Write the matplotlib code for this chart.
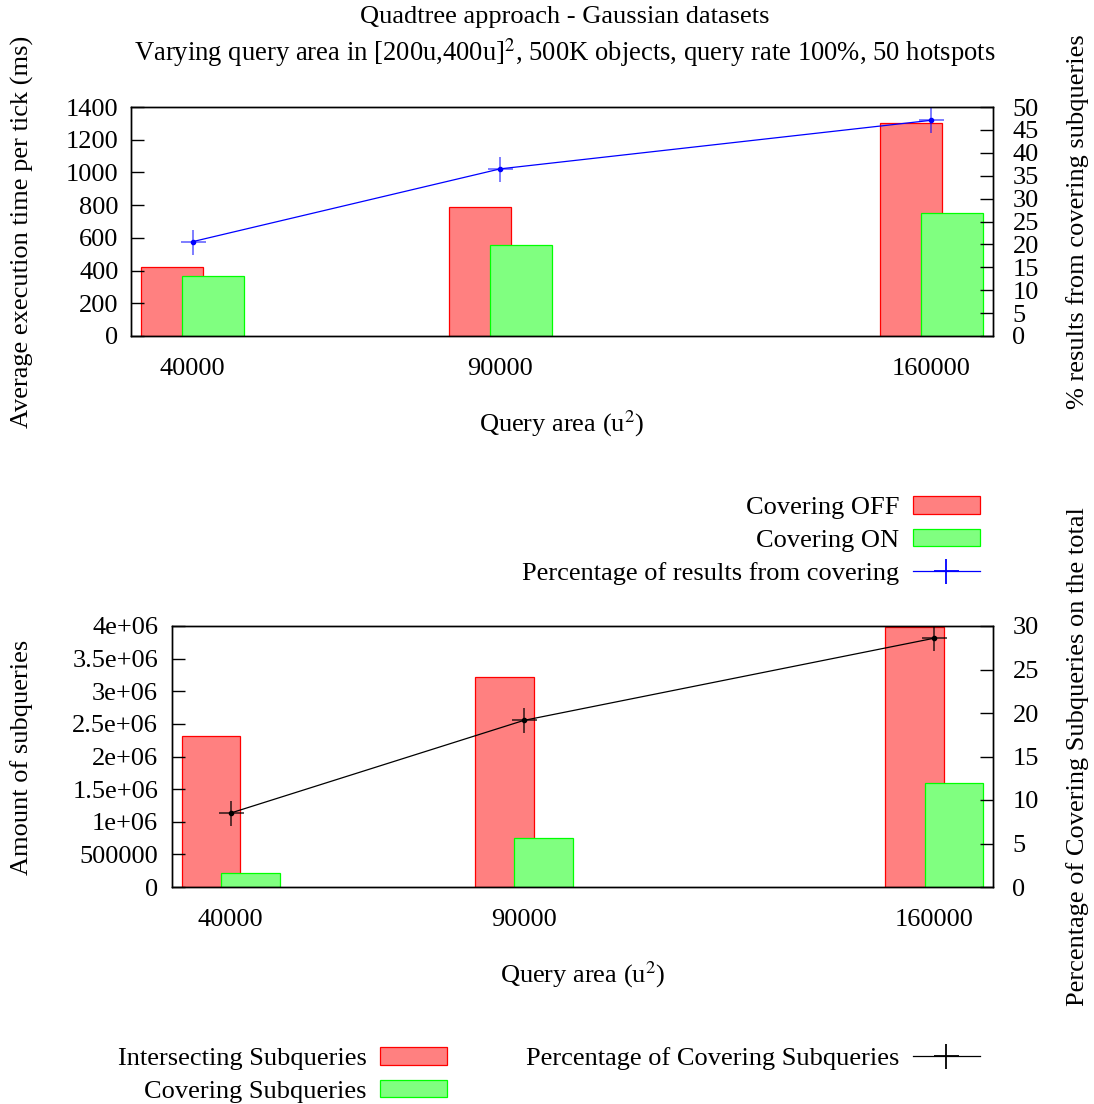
import matplotlib
matplotlib.use("Agg")
import matplotlib.pyplot as plt
from matplotlib.patches import Patch
from matplotlib.lines import Line2D

plt.rcParams['font.family'] = ['Liberation Serif', 'DejaVu Serif']
plt.rcParams['mathtext.fontset'] = 'stix'
plt.rcParams['font.size'] = 19

# query areas (u^2)
areas = [40000, 90000, 160000]
area_labels = ['40000', '90000', '160000']

# top panel: execution time per tick (ms) and % of results from covering
time_off = [424, 787, 1300]
time_on = [369, 554, 750]
pct_results = [20.6, 36.5, 47.1]

# bottom panel: subquery counts and % covering subqueries
inter_subq = [2.31e6, 3.22e6, 3.99e6]
cover_subq = [2.15e5, 7.56e5, 1.594e6]
pct_cover = [8.5, 19.15, 28.6]

W, H = 1094, 1104
fig = plt.figure(figsize=(W / 100, H / 100), dpi=100)

red_face, red_edge = '#ff8080', '#ff0000'
green_face, green_edge = '#80ff80', '#00ff00'
bw = 10000
shift = 3333


def px_axes(left, top, right, bottom):
    return fig.add_axes([left / W, 1 - bottom / H, (right - left) / W, (bottom - top) / H])


def style(ax, ax2, ymax, yticks, ytick_labels, y2max, y2ticks, lpad):
    ax.set_xlim(30000, 170000)
    ax.set_xticks(areas)
    ax.set_xticklabels(area_labels)
    ax.tick_params(axis='x', length=0, pad=16)
    ax.set_ylim(0, ymax)
    ax.set_yticks(yticks)
    ax.set_yticklabels(ytick_labels)
    ax.tick_params(axis='y', direction='in', length=9.5, width=1, pad=lpad)
    ax2.set_ylim(0, y2max)
    ax2.set_yticks(y2ticks)
    ax2.tick_params(axis='y', direction='in', length=9.5, width=1, pad=14)
    for a in (ax, ax2):
        for s in a.spines.values():
            s.set_linewidth(1.0)


# ---- top panel ----
ax1 = px_axes(131, 107, 993, 336)
ax1.bar([a - shift for a in areas], time_off, width=bw, color=red_face,
        edgecolor=red_edge, linewidth=0.9)
ax1.bar([a + shift for a in areas], time_on, width=bw, color=green_face,
        edgecolor=green_edge, linewidth=0.9)
ax1b = ax1.twinx()
ax1b.plot(areas, pct_results, color='#0000ff', lw=0.9)
ax1b.plot(areas, pct_results, ls='none', marker='+', ms=18, mew=1.3,
          color='#0000ff', alpha=0.55)
ax1b.plot(areas, pct_results, ls='none', marker='o', ms=3, color='#0000ff')
style(ax1, ax1b, 1400, range(0, 1401, 200), [str(v) for v in range(0, 1401, 200)],
      50, range(0, 51, 5), 9)
ax1.set_xlabel('Query area (u$^2$)', labelpad=20)

# ---- bottom panel ----
ax2 = px_axes(172, 626, 993, 887)
ax2.bar([a - shift for a in areas], inter_subq, width=bw, color=red_face,
        edgecolor=red_edge, linewidth=0.9)
ax2.bar([a + shift for a in areas], cover_subq, width=bw, color=green_face,
        edgecolor=green_edge, linewidth=0.9)
ax2b = ax2.twinx()
ax2b.plot(areas, pct_cover, color='black', lw=0.9)
ax2b.plot(areas, pct_cover, ls='none', marker='+', ms=18, mew=1.3,
          color='black', alpha=0.7)
ax2b.plot(areas, pct_cover, ls='none', marker='o', ms=3, color='black')
bticks = [0, 5e5, 1e6, 1.5e6, 2e6, 2.5e6, 3e6, 3.5e6, 4e6]
blabels = ['0', '500000', '1e+06', '1.5e+06', '2e+06', '2.5e+06', '3e+06',
           '3.5e+06', '4e+06']
style(ax2, ax2b, 4e6, bticks, blabels, 30, range(0, 31, 5), 10)
ax2.set_xlabel('Query area (u$^2$)', labelpad=20)

# titles and axis labels
fig.text(565 / W, 1 - 17 / H, 'Quadtree approach - Gaussian datasets',
         ha='center', va='center')
fig.text(565 / W, 1 - 53 / H,
         'Varying query area in [200u,400u]$^2$, 500K objects, query rate 100%, 50 hotspots',
         ha='center', va='center', fontsize=19.2)
fig.text(22 / W, 1 - 232 / H, 'Average execution time per tick (ms)',
         rotation=90, ha='center', va='center')
fig.text(1078 / W, 1 - 222 / H, '% results from covering subqueries',
         rotation=90, ha='center', va='center')
fig.text(22 / W, 1 - 757 / H, 'Amount of subqueries',
         rotation=90, ha='center', va='center')
fig.text(1078 / W, 1 - 757 / H, 'Percentage of Covering Subqueries on the total',
         rotation=90, ha='center', va='center')

# legends
leg_kw = dict(frameon=False, markerfirst=False, handlelength=2.55, handleheight=0.65,
              labelspacing=0.37, borderpad=0, borderaxespad=0, handletextpad=0.5,
              bbox_transform=fig.transFigure, loc='upper right')
top_handles = [
    Patch(facecolor=red_face, edgecolor=red_edge, lw=0.9),
    Patch(facecolor=green_face, edgecolor=green_edge, lw=0.9),
    Line2D([], [], color='#0000ff', lw=0.9, marker='+', ms=18, mew=1.3),
]
fig.legend(top_handles, ['Covering OFF', 'Covering ON', 'Percentage of results from covering'],
           bbox_to_anchor=(980 / W, 1 - 496 / H), **leg_kw)

bot_handles = [
    Patch(facecolor=red_face, edgecolor=red_edge, lw=0.9),
    Patch(facecolor=green_face, edgecolor=green_edge, lw=0.9),
    Line2D([], [], color='black', lw=0.9, marker='+', ms=18, mew=1.3),
]
fig.legend(bot_handles, ['Intersecting Subqueries', 'Covering Subqueries',
                         'Percentage of Covering Subqueries'],
           ncol=2, columnspacing=3.0,
           bbox_to_anchor=(980 / W, 1 - 1047 / H), **leg_kw)

fig.savefig('out.png', dpi=100)
